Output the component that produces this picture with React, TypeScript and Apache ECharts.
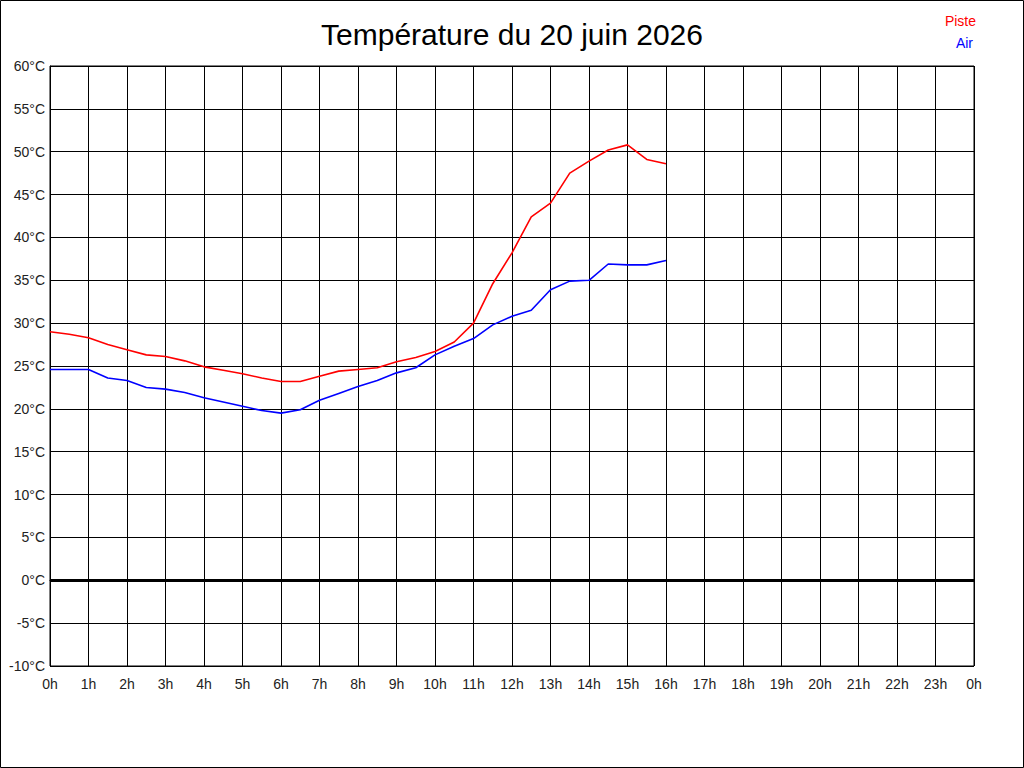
import React, { useEffect, useRef } from 'react';
import * as echarts from 'echarts';

// heures des relevés (toutes les 30 min)
const hours = [
    0, 0.5, 1, 1.5, 2, 2.5, 3, 3.5, 4, 4.5, 5, 5.5, 6, 6.5, 7, 7.5, 8,
    8.5, 9, 9.5, 10, 10.5, 11, 11.5, 12, 12.5, 13, 13.5, 14, 14.5, 15, 15.5, 16
];

const piste = [
    29.0, 28.7, 28.3, 27.5, 26.9, 26.3, 26.1, 25.6, 24.9, 24.5, 24.1, 23.6, 23.2, 23.2, 23.8, 24.4, 24.6,
    24.8, 25.5, 26.0, 26.7, 27.8, 30.0, 34.6, 38.2, 42.4, 44.0, 47.5, 48.9, 50.2, 50.8, 49.1, 48.6
];

const air = [
    24.6, 24.6, 24.6, 23.6, 23.3, 22.5, 22.3, 21.9, 21.3, 20.8, 20.3, 19.8, 19.5, 19.9, 21.0, 21.8, 22.6,
    23.3, 24.2, 24.8, 26.3, 27.3, 28.2, 29.8, 30.8, 31.5, 33.9, 34.9, 35.0, 36.9, 36.8, 36.8, 37.3
];

const TITLE = 'Température du 20 juin 2026';
const FONT = '"Liberation Sans", Arial, sans-serif';

export default function App() {
    const chartRef = useRef<HTMLDivElement>(null);

    useEffect(() => {
        if (!chartRef.current) return;

        const chart = echarts.init(chartRef.current, undefined, { renderer: 'svg' });

        const option = {
            animation: false,
            backgroundColor: '#fff',
            textStyle: { fontFamily: FONT },
            title: {
                text: TITLE,
                left: 'center',
                top: 14,
                textStyle: { fontSize: 30, fontWeight: 'normal', color: '#000', fontFamily: FONT }
            },
            graphic: [
                {
                    type: 'rect',
                    shape: { x: 0.5, y: 0.5, width: 1023, height: 767 },
                    style: { fill: 'none', stroke: '#000', lineWidth: 1 },
                    silent: true
                },
                {
                    type: 'text',
                    right: 48,
                    top: 14,
                    style: { text: 'Piste', fill: '#ff0000', fontSize: 14, fontFamily: FONT }
                },
                {
                    type: 'text',
                    right: 51,
                    top: 36,
                    style: { text: 'Air', fill: '#0000ff', fontSize: 14, fontFamily: FONT }
                }
            ],
            grid: {
                left: 50,
                top: 66,
                width: 924,
                height: 600,
                show: true,
                borderColor: '#000',
                borderWidth: 1
            },
            xAxis: {
                type: 'value',
                min: 0,
                max: 24,
                interval: 1,
                axisLine: { show: true, lineStyle: { color: '#000', width: 1 } },
                axisTick: { show: false },
                splitLine: { show: true, lineStyle: { color: '#000', width: 1 } },
                axisLabel: {
                    margin: 11,
                    fontSize: 14,
                    color: '#222',
                    formatter: (v: number) => (v === 24 ? '0h' : v + 'h')
                }
            },
            yAxis: {
                type: 'value',
                min: -10,
                max: 60,
                interval: 5,
                axisLine: { show: true, lineStyle: { color: '#000', width: 1 } },
                axisTick: { show: false },
                splitLine: { show: true, lineStyle: { color: '#000', width: 1 } },
                axisLabel: {
                    margin: 5,
                    fontSize: 14,
                    color: '#222',
                    formatter: '{value}°C'
                }
            },
            series: [
                {
                    name: 'Piste',
                    type: 'line',
                    data: hours.map((h, i) => [h, piste[i]]),
                    showSymbol: false,
                    lineStyle: { color: '#ff0000', width: 1.6 },
                    itemStyle: { color: '#ff0000' },
                    markLine: {
                        silent: true,
                        symbol: 'none',
                        label: { show: false },
                        lineStyle: { color: '#000', width: 3, type: 'solid' },
                        data: [{ yAxis: 0 }]
                    }
                },
                {
                    name: 'Air',
                    type: 'line',
                    data: hours.map((h, i) => [h, air[i]]),
                    showSymbol: false,
                    lineStyle: { color: '#0000ff', width: 1.6 },
                    itemStyle: { color: '#0000ff' }
                }
            ]
        };

        chart.setOption(option);

        return () => {
            chart.dispose();
        };
    }, []);

    return (
        <div
            ref={chartRef}
            style={{ position: 'absolute', left: 0, top: 0, width: 1024, height: 768 }}
        />
    );
}
